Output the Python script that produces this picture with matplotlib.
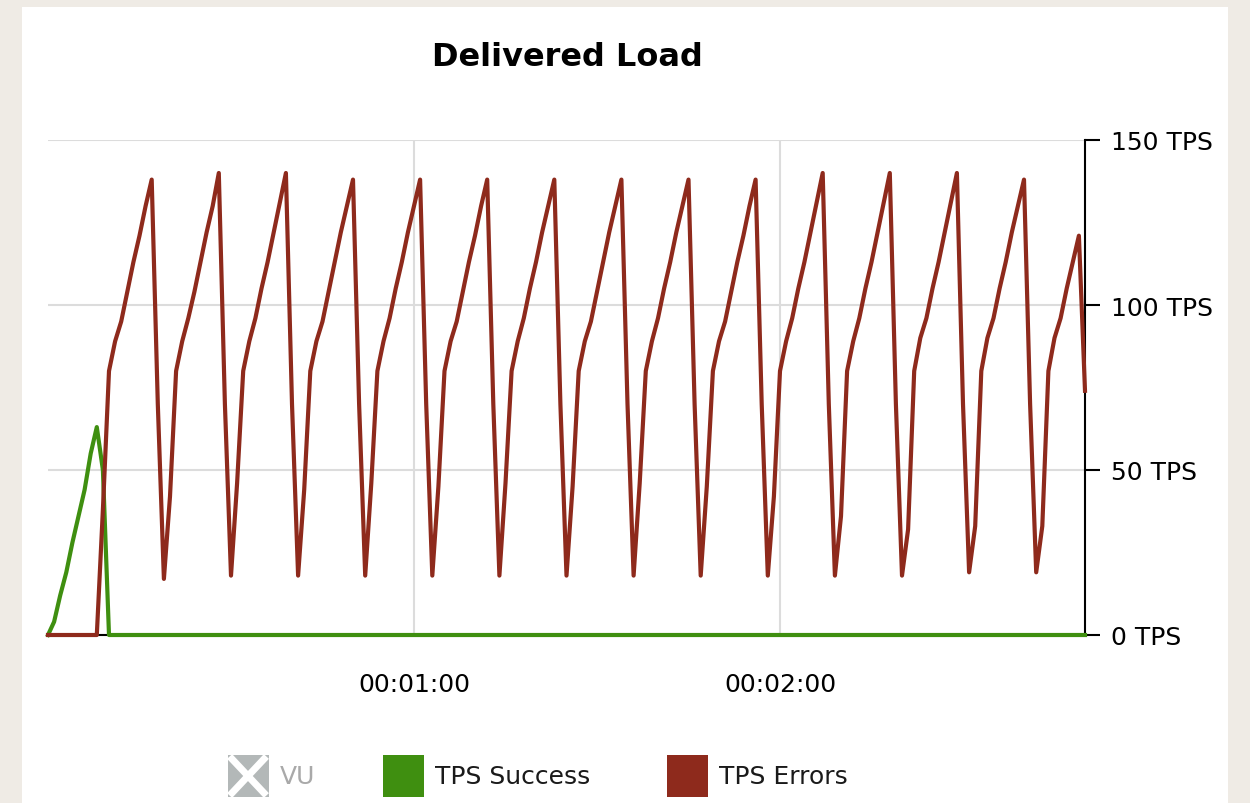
import matplotlib
matplotlib.use("Agg")
import matplotlib.pyplot as plt
from matplotlib.patches import Rectangle
from matplotlib.ticker import FuncFormatter, FixedLocator

# one sample per second
tps_errors_lead = [0, 0, 0, 0, 0, 0, 0, 0, 0, 38, 80, 89, 95, 104, 113, 121, 130]
tps_errors_cycles = [
    [138, 70, 17, 42, 80, 89, 96, 104, 113, 122, 130],
    [140, 70, 18, 46, 80, 89, 96, 105, 113, 122, 131],
    [140, 70, 18, 44, 80, 89, 95, 104, 113, 122, 130],
    [138, 70, 18, 46, 80, 89, 96, 105, 113, 122, 130],
    [138, 70, 18, 45, 80, 89, 95, 104, 113, 121, 130],
    [138, 70, 18, 46, 80, 89, 96, 105, 113, 122, 130],
    [138, 70, 18, 45, 80, 89, 95, 104, 113, 122, 130],
    [138, 70, 18, 46, 80, 89, 96, 105, 113, 122, 130],
    [138, 70, 18, 45, 80, 89, 95, 104, 113, 121, 130],
    [138, 70, 18, 42, 80, 89, 96, 105, 113, 122, 131],
    [140, 70, 18, 36, 80, 89, 96, 105, 113, 122, 131],
    [140, 70, 18, 32, 80, 90, 96, 105, 113, 122, 131],
    [140, 70, 19, 33, 80, 90, 96, 105, 113, 122, 130],
    [138, 70, 19, 33, 80, 90, 96, 105, 113, 121, 74],
]
tps_success_ramp = [0, 4, 12, 19, 28, 36, 44, 55, 63, 50, 0]

tps_errors = list(tps_errors_lead)
for cycle in tps_errors_cycles:
    tps_errors += cycle
seconds = list(range(len(tps_errors)))
tps_success = tps_success_ramp + [0] * (len(seconds) - len(tps_success_ramp))

y_ticks = [0, 50, 100, 150]
x_ticks = [60, 120]
legend_labels = ["VU", "TPS Success", "TPS Errors"]

GREEN = "#3f8f10"
RED = "#8e2a1c"
GRID = "#dcdcdc"


def hms(v, pos=None):
    v = int(round(v))
    return f"{v // 3600:02d}:{(v % 3600) // 60:02d}:{v % 60:02d}"


W, H = 1250, 804
fig = plt.figure(figsize=(W / 100, H / 100), dpi=100, facecolor="#efebe5")
fig.patches.append(Rectangle((22 / W, 0), 1206 / W, 796 / H, transform=fig.transFigure,
                             facecolor="white", edgecolor="none", zorder=-10))

ax = fig.add_axes([48 / W, (H - 636) / H, 1037 / W, 495 / H])
ax.set_zorder(5)
ax.set_facecolor("white")
ax.plot(seconds, tps_success, color=GREEN, lw=3, clip_on=False, zorder=3)
ax.plot(seconds, tps_errors, color=RED, lw=3, clip_on=False, zorder=4)

ax.set_xlim(seconds[0], seconds[-1])
ax.set_ylim(0, 150)
ax.yaxis.tick_right()
ax.yaxis.set_major_locator(FixedLocator(y_ticks))
ax.yaxis.set_major_formatter(FuncFormatter(lambda v, p: f"{v:.0f} TPS"))
ax.xaxis.set_major_locator(FixedLocator(x_ticks))
ax.xaxis.set_major_formatter(FuncFormatter(hms))

for s in ["left", "top"]:
    ax.spines[s].set_visible(False)
ax.spines["right"].set_color("black")
ax.spines["right"].set_linewidth(1.5)
ax.spines["bottom"].set_color("black")
ax.spines["bottom"].set_linewidth(1.5)

ax.tick_params(axis="y", direction="out", length=11, width=1.5, pad=8,
               labelsize=18, colors="black")
ax.tick_params(axis="x", direction="out", length=0, pad=27, labelsize=18,
               colors="black")
ax.grid(True, color=GRID, lw=1.5)
ax.set_axisbelow(True)

fig.text(567 / W, 1 - 58 / H, "Delivered Load", ha="center", va="center",
         fontsize=23, fontweight="bold")

# legend row
ly = 1 - 777 / H
sq_w, sq_h = 41 / W, 42 / H
items = [(228, "#b3b8b8", "#a9a9a9"), (383, GREEN, "#1a1a1a"), (667, RED, "#1a1a1a")]
for (x0, col, tcol), label in zip(items, legend_labels):
    fig.patches.append(Rectangle((x0 / W, ly - sq_h / 2), sq_w, sq_h,
                                 transform=fig.transFigure, facecolor=col,
                                 edgecolor="none", zorder=2))
    fig.text((x0 + 52) / W, ly, label, ha="left", va="center", fontsize=18,
             color=tcol)
# cross on disabled VU entry
cx0, cx1 = 232 / W, 264 / W
cy0, cy1 = ly - 17 / H, ly + 17 / H
fig.lines.append(plt.Line2D([cx0, cx1], [cy0, cy1], transform=fig.transFigure,
                            color="white", lw=5, zorder=3))
fig.lines.append(plt.Line2D([cx0, cx1], [cy1, cy0], transform=fig.transFigure,
                            color="white", lw=5, zorder=3))

fig.savefig("out.png", dpi=100, facecolor=fig.get_facecolor())
